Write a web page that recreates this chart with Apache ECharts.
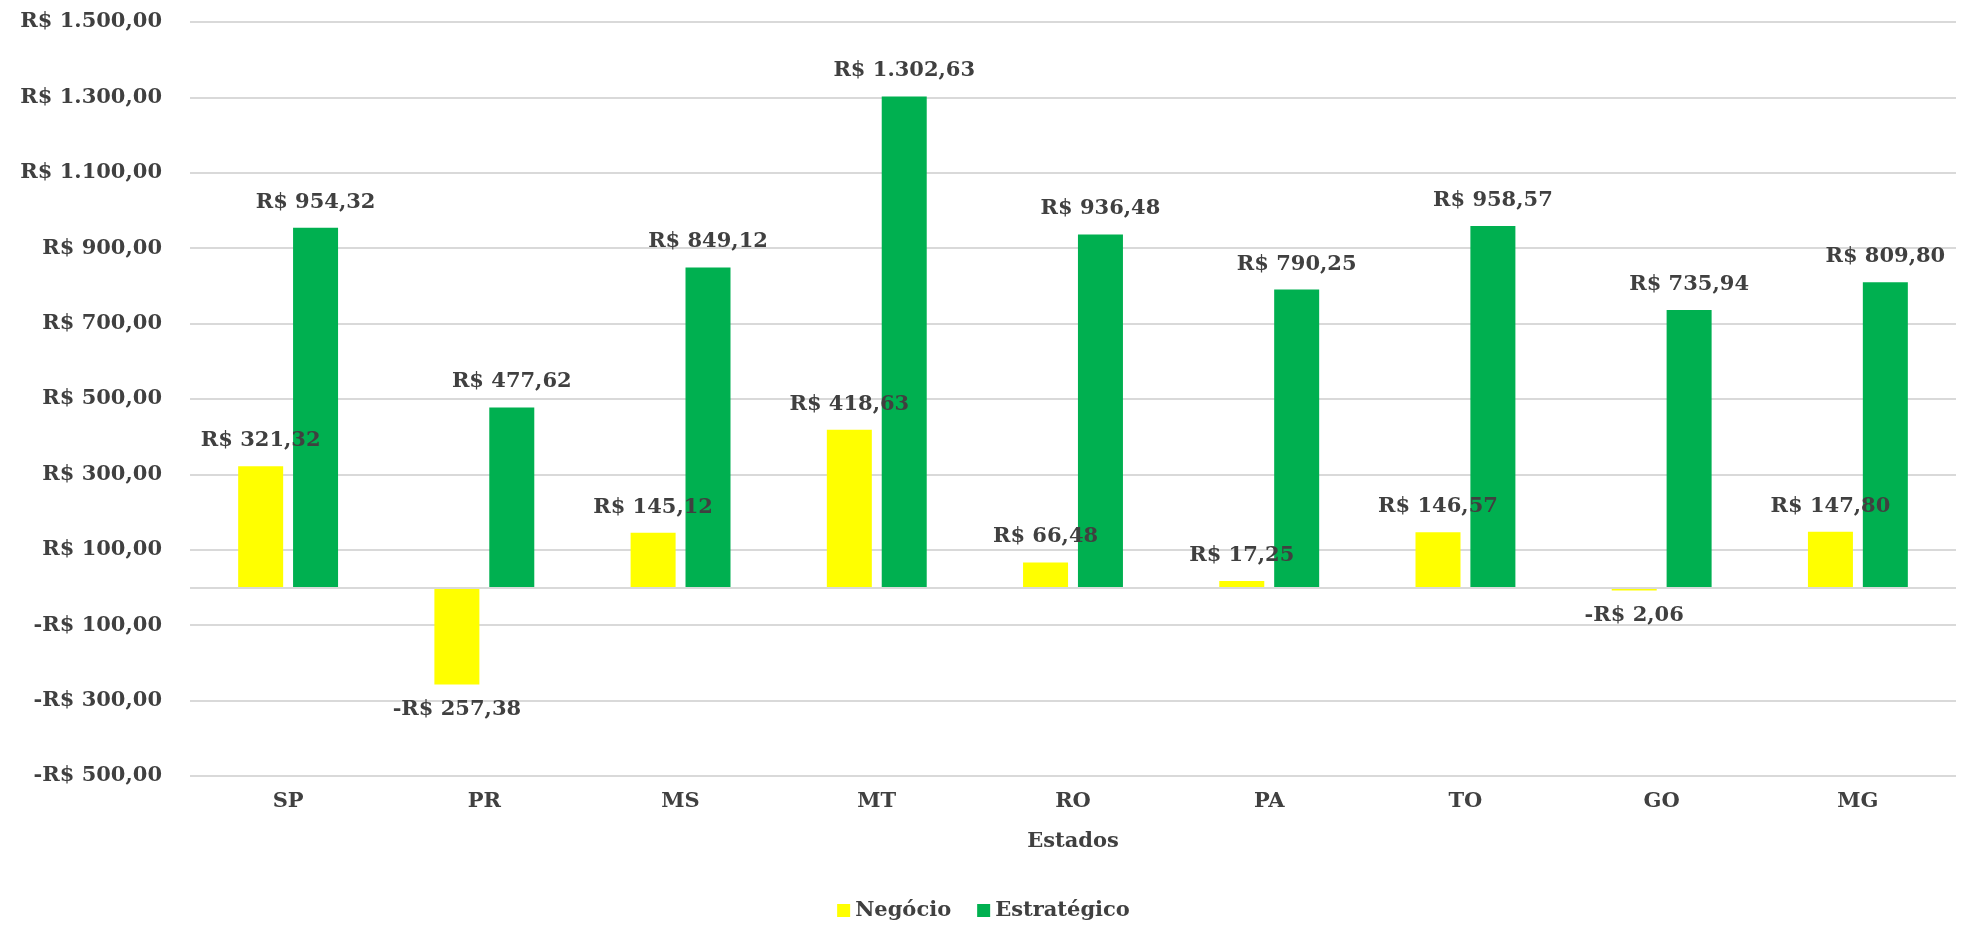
<!DOCTYPE html>
<html>
<head>
<meta charset="utf-8">
<script src="https://cdn.jsdelivr.net/npm/echarts@6/dist/echarts.min.js"></script>
<style>html,body{margin:0;padding:0;background:#fff}#c{width:1967px;height:925px}</style>
</head>
<body>
<div id="c"></div>
<script>
const categories = ['SP', 'PR', 'MS', 'MT', 'RO', 'PA', 'TO', 'GO', 'MG'];
const negocio = [321.32, -257.38, 145.12, 418.63, 66.48, 17.25, 146.57, -2.06, 147.80];
const estrategico = [954.32, 477.62, 849.12, 1302.63, 936.48, 790.25, 958.57, 735.94, 809.80];
const seriesNames = ['Negócio', 'Estratégico'];
const axisTitle = 'Estados';

function brl(v) {
  const neg = v < 0;
  const a = Math.abs(v);
  const parts = a.toFixed(2).split('.');
  const intPart = parts[0].replace(/\B(?=(\d{3})+(?!\d))/g, '.');
  return (neg ? '-' : '') + 'R$ ' + intPart + ',' + parts[1];
}

const FONT = 'DejaVu Serif';
const FS = 21;
const TXT = '#404040';

const chart = echarts.init(document.getElementById('c'), null, {renderer: 'canvas'});
const labelCfg = {
  show: true,
  distance: 15,
  fontFamily: FONT,
  fontWeight: 'bold',
  fontSize: FS,
  color: TXT,
  formatter: p => brl(p.value)
};
function mkData(arr) {
  return arr.map(v => ({value: v, label: {position: v < 0 ? 'bottom' : 'top'}}));
}
chart.setOption({
  animation: false,
  backgroundColor: '#fff',
  grid: {left: 190, right: 11, top: 22, bottom: 149, containLabel: false},
  legend: {
    bottom: -1,
    left: 'center',
    itemWidth: 13, itemHeight: 13, itemGap: 26,
    icon: 'rect',
    textStyle: {fontFamily: FONT, fontWeight: 'bold', fontSize: FS, color: TXT},
    data: seriesNames
  },
  xAxis: {
    type: 'category',
    data: categories,
    name: axisTitle,
    nameLocation: 'middle',
    nameGap: 55,
    nameTextStyle: {fontFamily: FONT, fontWeight: 'bold', fontSize: FS, color: TXT},
    axisLine: {show: false, onZero: false},
    axisTick: {show: false},
    axisLabel: {margin: 15, fontFamily: FONT, fontWeight: 'bold', fontSize: FS, color: TXT}
  },
  yAxis: {
    type: 'value',
    min: -500, max: 1500, interval: 200,
    axisLine: {show: false},
    axisTick: {show: false},
    splitLine: {lineStyle: {color: '#d9d9d9', width: 2}},
    axisLabel: {margin: 28, fontFamily: FONT, fontWeight: 'bold', fontSize: FS, color: TXT, formatter: v => brl(v)}
  },
  series: [
    {
      name: seriesNames[0], type: 'bar', data: mkData(negocio),
      barWidth: 45, barGap: '22%', barMinHeight: 3,
      itemStyle: {color: '#FFFF00'},
      label: labelCfg,
      markLine: {
        silent: true, symbol: 'none', label: {show: false},
        lineStyle: {color: '#d9d9d9', width: 2, type: 'solid'},
        data: [{yAxis: 0}]
      },
      z: 3
    },
    {
      name: seriesNames[1], type: 'bar', data: mkData(estrategico),
      barWidth: 45, barGap: '22%',
      itemStyle: {color: '#00B050'},
      label: labelCfg,
      z: 3
    }
  ]
});
</script>
</body>
</html>
